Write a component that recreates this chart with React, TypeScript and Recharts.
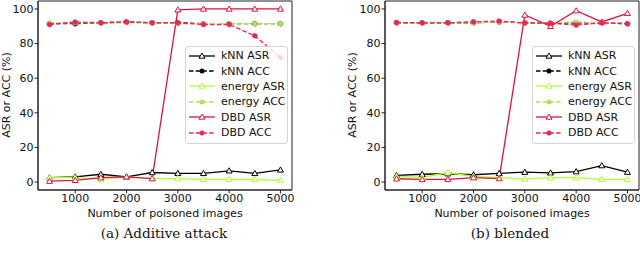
import React from 'react';
import { LineChart, Line, XAxis, YAxis, ReferenceArea } from 'recharts';

// x positions (number of poisoned images)
const poisoned = [500, 1000, 1500, 2000, 2500, 3000, 3500, 4000, 4500, 5000];
const xTicks = [1000, 2000, 3000, 4000, 5000];
const yTicks = [0, 20, 40, 60, 80, 100];

// (a) Additive attack
const addKnnAsr = [2.5, 3, 4.5, 3, 5.5, 5, 5, 6.5, 5, 7];
const addKnnAcc = [91.5, 91.5, 92, 92.5, 92, 92, 91.5, 91.5, 91.5, 91.5];
const addEnergyAsr = [2.5, 2.5, 1.5, 3, 2, 2, 1.5, 1.5, 1.5, 1];
const addEnergyAcc = [92, 92, 92, 92, 92, 91.5, 91.5, 91.5, 91.5, 91.5];
const addDbdAsr = [0.5, 1, 2.5, 3, 2, 99.5, 100, 100, 100, 100];
const addDbdAcc = [91, 92.5, 92, 92.5, 92, 92, 91, 91, 84.5, 72];

// (b) blended
const blKnnAsr = [3.8, 4.5, 4.8, 4.2, 5, 5.7, 5.3, 6, 9.5, 5.7];
const blKnnAcc = [92, 92, 92, 92, 92.5, 92, 91.7, 92, 92, 91.5];
const blEnergyAsr = [3.2, 2.7, 5.5, 3.2, 2.5, 1.7, 2.5, 2.5, 1.5, 1.5];
const blEnergyAcc = [92, 92, 92, 92, 92.5, 92, 92, 92.5, 92, 91.5];
const blDbdAsr = [1.9, 1.5, 1.5, 2.5, 2, 96.5, 90, 99, 92.5, 97.5];
const blDbdAcc = [92.2, 92, 92, 92.6, 93, 92, 91.8, 90.7, 92, 91.5];

const seriesNames = ['kNN ASR', 'kNN ACC', 'energy ASR', 'energy ACC', 'DBD ASR', 'DBD ACC'];
const seriesKeys = ['knnAsr', 'knnAcc', 'energyAsr', 'energyAcc', 'dbdAsr', 'dbdAcc'];
const seriesColors = ['#000000', '#000000', '#adff2f', '#b2e05a', '#dc143c', '#f0245a'];

const FONT = '"DejaVu Sans", sans-serif';
const SERIF = '"DejaVu Serif", "Liberation Serif", serif';

const build = (cols: number[][]) =>
  poisoned.map((x, i) => {
    const row: any = { x };
    seriesKeys.forEach((k, j) => (row[k] = cols[j][i]));
    return row;
  });

const addData = build([addKnnAsr, addKnnAcc, addEnergyAsr, addEnergyAcc, addDbdAsr, addDbdAcc]);
const blData = build([blKnnAsr, blKnnAcc, blEnergyAsr, blEnergyAcc, blDbdAsr, blDbdAcc]);

const triangle = (color: string) => (props: any) => {
  const { cx, cy, index } = props;
  if (cx == null || cy == null) return <g key={`t-${index}`} />;
  return (
    <path
      key={`t-${index}`}
      d={`M${cx},${cy - 3} L${cx + 3},${cy + 2.2} L${cx - 3},${cy + 2.2} Z`}
      fill="#fff"
      stroke={color}
      strokeWidth={1}
    />
  );
};

const isAcc = (i: number) => i % 2 === 1;

const LegendBox = ({ left }: { left: number }) => (
  <div
    style={{
      position: 'absolute',
      left,
      top: 46,
      width: 101,
      height: 95,
      border: '1px solid #d4d4d4',
      borderRadius: 3,
      background: 'rgba(255,255,255,0.8)',
      paddingTop: 1,
      fontFamily: FONT,
      fontSize: 11,
      color: '#111',
      whiteSpace: 'nowrap',
    }}
  >
    {seriesNames.map((name, i) => (
      <div key={name} style={{ display: 'flex', alignItems: 'center', height: 15.4 }}>
        <svg width={28} height={10} style={{ marginLeft: 2, marginRight: 5, flexShrink: 0 }}>
          <line
            x1={1}
            x2={27}
            y1={5}
            y2={5}
            stroke={seriesColors[i]}
            strokeWidth={1.3}
            strokeDasharray={isAcc(i) ? '4.5 2.2' : undefined}
          />
          {isAcc(i) ? (
            <circle cx={14} cy={5} r={2.5} fill={seriesColors[i]} />
          ) : (
            <path d="M14,2 L17,7.2 L11,7.2 Z" fill="#fff" stroke={seriesColors[i]} strokeWidth={1} />
          )}
        </svg>
        <span style={{ lineHeight: '13px' }}>{name}</span>
      </div>
    ))}
  </div>
);

const Panel = ({ data, yAxisWidth }: { data: any[]; yAxisWidth: number }) => (
  <LineChart width={320} height={260} data={data} margin={{ top: 1, right: 320 - yAxisWidth - 254, bottom: 45, left: 0 }}>
    <XAxis
      type="number"
      dataKey="x"
      domain={[275, 5225]}
      ticks={xTicks}
      allowDataOverflow
      height={25}
      tickSize={3.5}
      tickMargin={1}
      stroke="#222"
      tick={{ fill: '#111', fontSize: 11, fontFamily: FONT }}
    />
    <YAxis
      type="number"
      domain={[-4.6, 104.6]}
      ticks={yTicks}
      allowDataOverflow
      width={yAxisWidth}
      tickSize={3.5}
      tickMargin={1}
      stroke="#222"
      tick={{ fill: '#111', fontSize: 11, fontFamily: FONT }}
    />
    <ReferenceArea x1={275} x2={5225} y1={-4.6} y2={104.6} fill="none" stroke="#222" strokeWidth={1} ifOverflow="visible" />
    {seriesKeys.map((k, i) => (
      <Line
        key={k}
        dataKey={k}
        name={seriesNames[i]}
        stroke={seriesColors[i]}
        strokeWidth={1.3}
        strokeDasharray={isAcc(i) ? '4.5 2.2' : undefined}
        dot={isAcc(i) ? { r: 2.5, fill: seriesColors[i], stroke: seriesColors[i], strokeWidth: 0.5 } : triangle(seriesColors[i])}
        activeDot={false}
        isAnimationActive={false}
      />
    ))}
  </LineChart>
);

const textStyle: React.CSSProperties = {
  position: 'absolute',
  fontFamily: FONT,
  fontSize: 11,
  lineHeight: '11px',
  color: '#111',
  whiteSpace: 'nowrap',
  transform: 'translate(-50%, -50%)',
};

export default function App() {
  return (
    <div style={{ position: 'absolute', left: 0, top: 0, width: 640, height: 260, background: '#fff', overflow: 'hidden' }}>
      <div style={{ position: 'absolute', left: 0, top: 0 }}>
        <Panel data={addData} yAxisWidth={38} />
      </div>
      <div style={{ position: 'absolute', left: 320, top: 0 }}>
        <Panel data={blData} yAxisWidth={65} />
      </div>
      <LegendBox left={185} />
      <LegendBox left={532} />
      <div style={{ ...textStyle, left: 6, top: 95, transform: 'translate(-50%, -50%) rotate(-90deg)' }}>ASR or ACC (%)</div>
      <div style={{ ...textStyle, left: 352, top: 95, transform: 'translate(-50%, -50%) rotate(-90deg)' }}>ASR or ACC (%)</div>
      <div style={{ ...textStyle, left: 165, top: 213 }}>Number of poisoned images</div>
      <div style={{ ...textStyle, left: 512, top: 213 }}>Number of poisoned images</div>
      <div style={{ ...textStyle, fontFamily: SERIF, fontSize: 13.5, lineHeight: '15px', left: 164, top: 233 }}>(a) Additive attack</div>
      <div style={{ ...textStyle, fontFamily: SERIF, fontSize: 13.5, lineHeight: '15px', left: 510, top: 233 }}>(b) blended</div>
    </div>
  );
}
